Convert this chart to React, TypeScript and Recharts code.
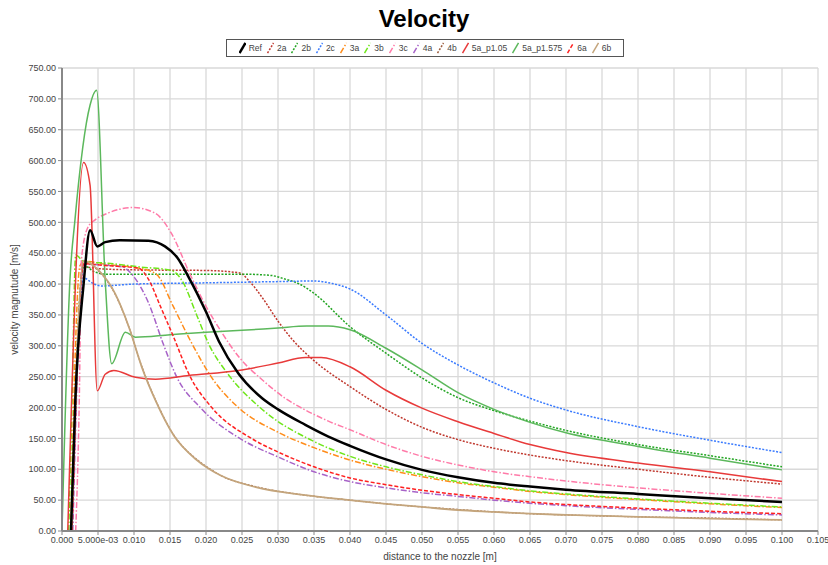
import React from "react";
import { CartesianGrid, Line, LineChart, XAxis, YAxis } from "recharts";

// distance to the nozzle [m], velocity magnitude [m/s]
const refPts: [number, number][] = [
  [0.00125, 0], [0.00185, 212], [0.003, 400], [0.0039, 487], [0.0049, 461], [0.006, 468],
  [0.008, 471], [0.012, 470], [0.0143, 461], [0.016, 443], [0.0176, 411], [0.02, 355],
  [0.0218, 307], [0.0245, 255], [0.0278, 215], [0.03, 197], [0.0338, 172], [0.037, 153],
  [0.04, 138], [0.045, 116], [0.05, 99], [0.055, 87], [0.06, 78], [0.065, 72], [0.07, 67],
  [0.08, 60], [0.09, 53], [0.1, 47],
];
const s2aPts: [number, number][] = [
  [0.0014, 0], [0.003, 428], [0.005, 425], [0.01, 423], [0.02, 422], [0.0247, 418], [0.026, 405],
  [0.028, 375], [0.03, 340], [0.032, 310], [0.035, 276], [0.04, 234], [0.045, 197], [0.05, 168],
  [0.055, 148], [0.06, 134], [0.065, 123], [0.07, 114], [0.08, 100], [0.09, 87], [0.1, 76],
];
const s2bPts: [number, number][] = [
  [0.0012, 0], [0.003, 430], [0.0045, 420], [0.006, 416], [0.015, 416], [0.025, 416], [0.029, 414],
  [0.031, 408], [0.033, 400], [0.035, 385], [0.04, 331], [0.045, 288], [0.05, 248], [0.055, 216],
  [0.06, 195], [0.065, 178], [0.07, 163], [0.08, 140], [0.09, 122], [0.1, 104],
];
const s2cPts: [number, number][] = [
  [0.0013, 0], [0.003, 410], [0.0043, 401], [0.0055, 397], [0.01, 400], [0.02, 402], [0.03, 404],
  [0.035, 405], [0.0375, 401], [0.04, 392], [0.045, 350], [0.05, 304], [0.055, 269], [0.06, 240],
  [0.065, 215], [0.07, 196], [0.08, 169], [0.09, 147], [0.1, 127],
];
const s3aPts: [number, number][] = [
  [0.0012, 0], [0.0025, 430], [0.0032, 437], [0.006, 432], [0.0106, 426], [0.0131, 416],
  [0.0154, 365], [0.0178, 309], [0.021, 245], [0.0245, 200], [0.03, 160], [0.035, 135],
  [0.04, 115], [0.045, 100], [0.05, 88], [0.055, 78], [0.06, 71], [0.065, 64], [0.07, 59],
  [0.08, 51], [0.09, 44], [0.1, 38],
];
const s3bPts: [number, number][] = [
  [0.00093, 0], [0.0014, 212], [0.0019, 447], [0.0031, 436], [0.006, 434], [0.0106, 428],
  [0.0152, 422], [0.0168, 403], [0.0187, 350], [0.0205, 300], [0.023, 255], [0.0275, 200],
  [0.035, 145], [0.04, 121], [0.045, 104], [0.05, 91], [0.055, 80], [0.06, 72], [0.065, 65],
  [0.07, 60], [0.08, 52], [0.09, 45], [0.1, 39],
];
const s3cPts: [number, number][] = [
  [0.0019, 0], [0.0024, 212], [0.0027, 440], [0.0036, 492], [0.0046, 504], [0.0064, 515],
  [0.0099, 524], [0.0129, 515], [0.0152, 482], [0.0177, 418], [0.0201, 362], [0.022, 325],
  [0.0247, 280], [0.0278, 245], [0.031, 215], [0.0338, 196], [0.037, 178], [0.04, 164],
  [0.045, 140], [0.05, 121], [0.055, 107], [0.06, 96], [0.065, 88], [0.07, 81], [0.08, 70],
  [0.09, 61], [0.1, 53],
];
const s4aPts: [number, number][] = [
  [0.0015, 0], [0.003, 432], [0.0083, 428], [0.0101, 410], [0.012, 370], [0.014, 305],
  [0.016, 248], [0.0192, 200], [0.0247, 150], [0.03, 120], [0.035, 96], [0.04, 80], [0.045, 70],
  [0.05, 62], [0.055, 56], [0.06, 50], [0.065, 45], [0.07, 41], [0.08, 35], [0.09, 30], [0.1, 26],
];
const s4bPts: [number, number][] = [
  [0.0013, 0], [0.003, 436], [0.0051, 421], [0.0074, 383], [0.0093, 330], [0.0111, 266],
  [0.013, 212], [0.0155, 156], [0.0185, 118], [0.0205, 101], [0.0222, 89], [0.0269, 72],
  [0.0338, 58], [0.04, 50], [0.045, 44], [0.05, 39], [0.055, 35], [0.06, 31], [0.065, 28],
  [0.07, 26], [0.08, 23], [0.09, 21], [0.1, 18],
];
const s5aLowPts: [number, number][] = [
  [0.0008, 0], [0.003, 597], [0.0039, 560], [0.0049, 227], [0.006, 254], [0.0072, 260],
  [0.0102, 249], [0.013, 246], [0.0176, 252], [0.0245, 260], [0.03, 272], [0.0338, 281],
  [0.036, 281], [0.04, 266], [0.045, 228], [0.05, 199], [0.055, 177], [0.06, 158], [0.065, 140],
  [0.07, 127], [0.08, 110], [0.09, 96], [0.1, 80],
];
const s5aHighPts: [number, number][] = [
  [0, 0], [0.0011, 406], [0.0018, 504], [0.0039, 690], [0.0048, 714], [0.006, 406],
  [0.0069, 271], [0.0088, 322], [0.0102, 314], [0.015, 318], [0.02, 322], [0.025, 325],
  [0.03, 329], [0.034, 332], [0.037, 332], [0.04, 326], [0.045, 296], [0.05, 261], [0.055, 224],
  [0.06, 197], [0.065, 176], [0.07, 159], [0.08, 137], [0.09, 118], [0.1, 99],
];
const s6aPts: [number, number][] = [
  [0.0014, 0], [0.003, 433], [0.006, 430], [0.0106, 426], [0.012, 408], [0.0137, 363],
  [0.0154, 317], [0.0178, 250], [0.0208, 200], [0.0263, 150], [0.03, 128], [0.035, 104],
  [0.04, 86], [0.045, 75], [0.05, 66], [0.055, 59], [0.06, 53], [0.065, 47], [0.07, 43],
  [0.08, 37], [0.09, 32], [0.1, 28],
];
const s6bPts: [number, number][] = [
  [0.0013, 0], [0.003, 438], [0.0051, 422], [0.0074, 384], [0.0093, 330], [0.0111, 265],
  [0.013, 211], [0.0155, 155], [0.0185, 117], [0.0205, 100], [0.0222, 89], [0.0269, 71],
  [0.0338, 58], [0.04, 50], [0.045, 44], [0.05, 39], [0.055, 34], [0.06, 31], [0.065, 28],
  [0.07, 26], [0.08, 23], [0.09, 20], [0.1, 18],
];

const xTicks = [
  0, 0.005, 0.01, 0.015, 0.02, 0.025, 0.03, 0.035, 0.04, 0.045, 0.05, 0.055, 0.06, 0.065, 0.07,
  0.075, 0.08, 0.085, 0.09, 0.095, 0.1, 0.105,
];
const yTicks = [0, 50, 100, 150, 200, 250, 300, 350, 400, 450, 500, 550, 600, 650, 700, 750];

const FONT = "'Liberation Sans', Arial, sans-serif";
const DOT = "2 1.5";
const DASHDOT = "6 2 1.5 2";

type Series = { name: string; pts: [number, number][]; color: string; width: number; dash?: string };

const series: Series[] = [
  { name: "Ref", pts: refPts, color: "#000000", width: 2.5 },
  { name: "2a", pts: s2aPts, color: "#c0392f", width: 1.5, dash: DOT },
  { name: "2b", pts: s2bPts, color: "#22a522", width: 1.5, dash: DOT },
  { name: "2c", pts: s2cPts, color: "#3a7bff", width: 1.5, dash: DOT },
  { name: "3a", pts: s3aPts, color: "#ff8c1a", width: 1.5, dash: DASHDOT },
  { name: "3b", pts: s3bPts, color: "#6fe61a", width: 1.5, dash: DASHDOT },
  { name: "3c", pts: s3cPts, color: "#ff7aa8", width: 1.5, dash: DASHDOT },
  { name: "4a", pts: s4aPts, color: "#a763c8", width: 1.5, dash: DASHDOT },
  { name: "4b", pts: s4bPts, color: "#9a5a3a", width: 1.2, dash: DOT },
  { name: "5a_p1.05", pts: s5aLowPts, color: "#e83a3a", width: 1.5 },
  { name: "5a_p1.575", pts: s5aHighPts, color: "#5cb85c", width: 1.5 },
  { name: "6a", pts: s6aPts, color: "#ff2020", width: 1.5, dash: "4 2" },
  { name: "6b", pts: s6bPts, color: "#c4a57c", width: 1.8 },
];

const xFmt = (v: number) => (Math.abs(v - 0.005) < 1e-9 ? "5.000e-03" : v.toFixed(3));
const yFmt = (v: number) => v.toFixed(2);

function LegendBox() {
  return (
    <div
      style={{
        position: "absolute",
        left: 226,
        top: 39,
        width: 396,
        height: 16,
        border: "1px solid #555",
        background: "#fff",
        display: "flex",
        alignItems: "center",
        justifyContent: "center",
        gap: 5,
        fontFamily: FONT,
        fontSize: 8.5,
        color: "#444",
        whiteSpace: "nowrap",
      }}
    >
      {series.map((s) => (
        <span key={s.name} style={{ display: "flex", alignItems: "center", gap: 3 }}>
          <svg width={7} height={12}>
            <line
              x1={0.5}
              y1={11}
              x2={6.5}
              y2={1}
              stroke={s.color}
              strokeWidth={s.name === "Ref" ? 2.5 : 1.5}
              strokeDasharray={s.dash}
            />
          </svg>
          <span>{s.name}</span>
        </span>
      ))}
    </div>
  );
}

export default function App() {
  // Ref goes on top, the rest in legend order
  const drawn = [...series.slice(1), series[0]];
  return (
    <div style={{ position: "absolute", left: 0, top: 0, width: 828, height: 565, background: "#fff" }}>
      <div
        style={{
          position: "absolute",
          left: 0,
          top: 5,
          width: 848,
          textAlign: "center",
          fontFamily: FONT,
          fontWeight: "bold",
          fontSize: 24,
          color: "#000",
        }}
      >
        Velocity
      </div>
      <LegendBox />
      <LineChart width={828} height={565} margin={{ top: 68, right: 10, bottom: 0, left: 0 }}>
        <CartesianGrid stroke="#d9d9d9" strokeWidth={1.3} />
        <XAxis
          type="number"
          dataKey="x"
          domain={[0, 0.105]}
          ticks={xTicks}
          tickFormatter={xFmt}
          interval={0}
          height={34}
          tick={{ fontSize: 9, fill: "#444", fontFamily: FONT }}
          tickSize={4}
          stroke="#888"
          axisLine={{ stroke: "#888", strokeWidth: 2 }}
          allowDataOverflow
          label={{
            value: "distance to the nozzle [m]",
            position: "insideBottom",
            offset: 5,
            style: { fontSize: 10, fill: "#444", fontFamily: FONT },
          }}
        />
        <YAxis
          type="number"
          domain={[0, 750]}
          ticks={yTicks}
          tickFormatter={yFmt}
          interval={0}
          width={62}
          tick={{ fontSize: 9, fill: "#444", fontFamily: FONT }}
          tickSize={4}
          stroke="#888"
          axisLine={{ stroke: "#888", strokeWidth: 2 }}
          label={{
            value: "velocity magnutude [m/s]",
            angle: -90,
            position: "insideLeft",
            offset: 14,
            style: { fontSize: 10, fill: "#444", fontFamily: FONT, textAnchor: "middle" },
          }}
        />
        {drawn.map((s) => (
          <Line
            key={s.name}
            data={s.pts.map(([x, v]) => ({ x, v }))}
            dataKey="v"
            name={s.name}
            type="monotone"
            stroke={s.color}
            strokeWidth={s.width}
            strokeDasharray={s.dash}
            dot={false}
            activeDot={false}
            isAnimationActive={false}
          />
        ))}
      </LineChart>
    </div>
  );
}
